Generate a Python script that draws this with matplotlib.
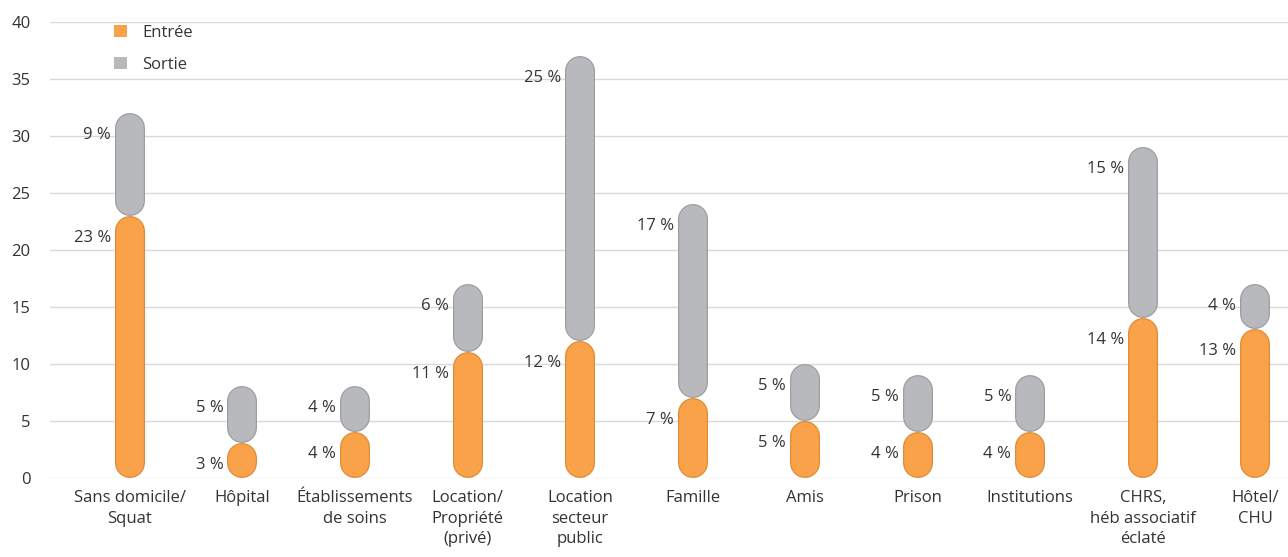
import matplotlib
matplotlib.use("Agg")
import matplotlib.pyplot as plt
from matplotlib.patches import Patch

plt.rcParams["font.family"] = ["Open Sans", "DejaVu Sans"]

categories = [
    "Sans domicile/\nSquat", "Hôpital", "Établissements\nde soins",
    "Location/\nPropriété\n(privé)", "Location\nsecteur\npublic", "Famille",
    "Amis", "Prison", "Institutions", "CHRS,\nhéb associatif\néclaté", "Hôtel/\nCHU",
]
entree = [23, 3, 4, 11, 12, 7, 5, 4, 4, 14, 13]
sortie = [9, 5, 4, 6, 25, 17, 5, 5, 5, 15, 4]
yticks = [0, 5, 10, 15, 20, 25, 30, 35, 40]

ORANGE, ORANGE_EDGE = "#F9A24A", "#E08B33"
GREY, GREY_EDGE = "#B8B9BD", "#9C9DA1"
TEXT = "#333333"
FS = 12

W, H, DPI = 1288, 557, 100
fig = plt.figure(figsize=(W / DPI, H / DPI), dpi=DPI)
ax_l, ax_r, ax_b, ax_t = 50, 1288, 477.5, 22
ax = fig.add_axes([ax_l / W, (H - ax_b) / H, (ax_r - ax_l) / W, (ax_b - ax_t) / H])

xlim = (-0.71, 10.29)
ylim = (0, 40)
ax.set_xlim(*xlim)
ax.set_ylim(*ylim)

# capsules are thick round-capped strokes; radius converted to data units
px_y = (ax_b - ax_t) / (ylim[1] - ylim[0])
BAR_PX = 30
r = BAR_PX / 2 / px_y
pt = 72 / DPI


def capsule(x, bottom, top, face, edge):
    ys = [bottom + r, max(top - r, bottom + r)]
    ax.plot([x, x], ys, color=edge, lw=BAR_PX * pt, solid_capstyle="round",
            clip_on=False, zorder=3)
    ax.plot([x, x], ys, color=face, lw=(BAR_PX - 2.4) * pt,
            solid_capstyle="round", clip_on=False, zorder=3)


def value_label(x, top, v):
    ax.annotate(f"{v} %", xy=(x, top), xytext=(-19, -22),
                textcoords="offset pixels", ha="right", va="center",
                fontsize=FS, color=TEXT, zorder=4)


for i, (e, s) in enumerate(zip(entree, sortie)):
    capsule(i, e, e + s, GREY, GREY_EDGE)
    capsule(i, 0, e, ORANGE, ORANGE_EDGE)
    value_label(i, e + s, s)
    value_label(i, e, e)

ax.set_yticks(yticks)
ax.set_xticks(range(len(categories)))
ax.set_xticklabels(categories, fontsize=FS, color=TEXT, linespacing=1.38)
ax.tick_params(axis="y", length=0, pad=14, labelsize=FS, labelcolor=TEXT)
ax.tick_params(axis="x", length=0, pad=9)
ax.grid(axis="y", color="#D9D9D9", linewidth=1)
ax.set_axisbelow(True)
for sp in ax.spines.values():
    sp.set_visible(False)

handles = [Patch(facecolor=ORANGE, edgecolor="none", label="Entrée"),
           Patch(facecolor=GREY, edgecolor="none", label="Sortie")]
ax.legend(handles=handles, loc="upper left",
          bbox_to_anchor=(114 / W, 1 - 25 / H), bbox_transform=fig.transFigure,
          frameon=False, fontsize=FS, handlelength=0.75, handleheight=0.75,
          handletextpad=0.95, labelspacing=0.95, borderpad=0, borderaxespad=0,
          labelcolor=TEXT)

fig.savefig("out.png", dpi=DPI)
